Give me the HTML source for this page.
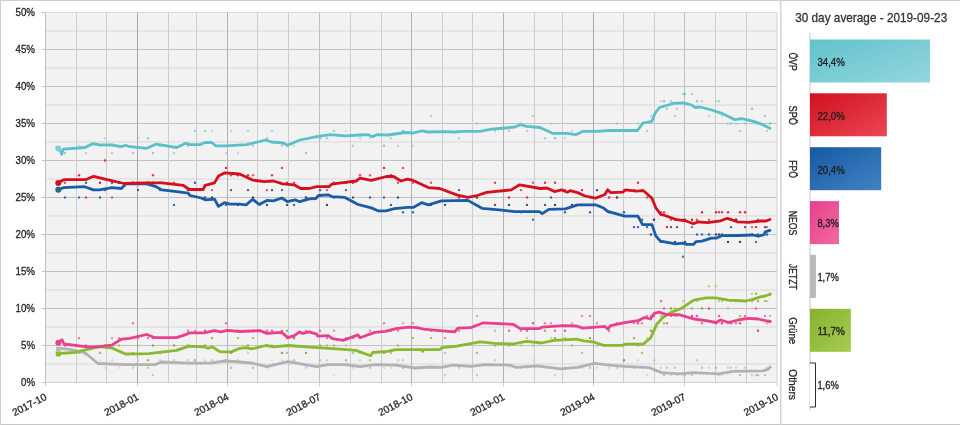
<!DOCTYPE html><html><head><meta charset="utf-8"><title>chart</title><style>html,body{margin:0;padding:0;background:#fff}svg{display:block}text{filter:grayscale(1);stroke:#222;stroke-width:0.28px}text{font-family:"Liberation Sans",sans-serif}</style></head><body>
<svg width="960" height="425" viewBox="0 0 960 425">
<defs>
<linearGradient id="g0" x1="0" y1="0" x2="1" y2="1"><stop offset="0" stop-color="#62c2cb"/><stop offset="1" stop-color="#93d6df"/></linearGradient>
<linearGradient id="g1" x1="0" y1="0" x2="1" y2="1"><stop offset="0" stop-color="#d2101f"/><stop offset="1" stop-color="#ea4753"/></linearGradient>
<linearGradient id="g2" x1="0" y1="0" x2="1" y2="1"><stop offset="0" stop-color="#1859a2"/><stop offset="1" stop-color="#3f83c4"/></linearGradient>
<linearGradient id="g3" x1="0" y1="0" x2="1" y2="1"><stop offset="0" stop-color="#e6408a"/><stop offset="1" stop-color="#f26aa6"/></linearGradient>
<linearGradient id="g5" x1="0" y1="0" x2="1" y2="1"><stop offset="0" stop-color="#86b22c"/><stop offset="1" stop-color="#a6cc52"/></linearGradient>
</defs>
<rect x="0" y="0" width="960" height="425" fill="#fff"/>
<rect x="0" y="0" width="960" height="1" fill="#cfcfcf"/>
<rect x="0" y="424" width="960" height="1" fill="#c6c6c6"/>
<rect x="0" y="0" width="1" height="425" fill="#cfcfcf"/>
<rect x="780" y="0" width="1.5" height="425" fill="#d4d4d4"/>
<rect x="45.5" y="12.5" width="732.0" height="370.0" fill="#f2f2f2"/>
<line x1="42.0" y1="382.5" x2="45.5" y2="382.5" stroke="#c0c0c0" stroke-width="1"/>
<line x1="45.5" y1="382.5" x2="777.5" y2="382.5" stroke="#d0d0d0" stroke-width="1"/>
<line x1="45.5" y1="364.0" x2="777.5" y2="364.0" stroke="#d9d9d9" stroke-width="1"/>
<line x1="42.0" y1="345.5" x2="45.5" y2="345.5" stroke="#c0c0c0" stroke-width="1"/>
<line x1="45.5" y1="345.5" x2="777.5" y2="345.5" stroke="#c2c2c2" stroke-width="1"/>
<line x1="45.5" y1="327.0" x2="777.5" y2="327.0" stroke="#d9d9d9" stroke-width="1"/>
<line x1="42.0" y1="308.5" x2="45.5" y2="308.5" stroke="#c0c0c0" stroke-width="1"/>
<line x1="45.5" y1="308.5" x2="777.5" y2="308.5" stroke="#c2c2c2" stroke-width="1"/>
<line x1="45.5" y1="290.0" x2="777.5" y2="290.0" stroke="#d9d9d9" stroke-width="1"/>
<line x1="42.0" y1="271.5" x2="45.5" y2="271.5" stroke="#c0c0c0" stroke-width="1"/>
<line x1="45.5" y1="271.5" x2="777.5" y2="271.5" stroke="#c2c2c2" stroke-width="1"/>
<line x1="45.5" y1="253.0" x2="777.5" y2="253.0" stroke="#d9d9d9" stroke-width="1"/>
<line x1="42.0" y1="234.5" x2="45.5" y2="234.5" stroke="#c0c0c0" stroke-width="1"/>
<line x1="45.5" y1="234.5" x2="777.5" y2="234.5" stroke="#c2c2c2" stroke-width="1"/>
<line x1="45.5" y1="216.0" x2="777.5" y2="216.0" stroke="#d9d9d9" stroke-width="1"/>
<line x1="42.0" y1="197.5" x2="45.5" y2="197.5" stroke="#c0c0c0" stroke-width="1"/>
<line x1="45.5" y1="197.5" x2="777.5" y2="197.5" stroke="#c2c2c2" stroke-width="1"/>
<line x1="45.5" y1="179.0" x2="777.5" y2="179.0" stroke="#d9d9d9" stroke-width="1"/>
<line x1="42.0" y1="160.5" x2="45.5" y2="160.5" stroke="#c0c0c0" stroke-width="1"/>
<line x1="45.5" y1="160.5" x2="777.5" y2="160.5" stroke="#c2c2c2" stroke-width="1"/>
<line x1="45.5" y1="142.0" x2="777.5" y2="142.0" stroke="#d9d9d9" stroke-width="1"/>
<line x1="42.0" y1="123.5" x2="45.5" y2="123.5" stroke="#c0c0c0" stroke-width="1"/>
<line x1="45.5" y1="123.5" x2="777.5" y2="123.5" stroke="#c2c2c2" stroke-width="1"/>
<line x1="45.5" y1="105.0" x2="777.5" y2="105.0" stroke="#d9d9d9" stroke-width="1"/>
<line x1="42.0" y1="86.5" x2="45.5" y2="86.5" stroke="#c0c0c0" stroke-width="1"/>
<line x1="45.5" y1="86.5" x2="777.5" y2="86.5" stroke="#c2c2c2" stroke-width="1"/>
<line x1="45.5" y1="68.0" x2="777.5" y2="68.0" stroke="#d9d9d9" stroke-width="1"/>
<line x1="42.0" y1="49.5" x2="45.5" y2="49.5" stroke="#c0c0c0" stroke-width="1"/>
<line x1="45.5" y1="49.5" x2="777.5" y2="49.5" stroke="#c2c2c2" stroke-width="1"/>
<line x1="45.5" y1="31.0" x2="777.5" y2="31.0" stroke="#d9d9d9" stroke-width="1"/>
<line x1="42.0" y1="12.5" x2="45.5" y2="12.5" stroke="#c0c0c0" stroke-width="1"/>
<line x1="45.5" y1="12.5" x2="777.5" y2="12.5" stroke="#dcdcdc" stroke-width="1"/>
<line x1="45.5" y1="12.5" x2="45.5" y2="382.5" stroke="#c0c0c0" stroke-width="1"/>
<line x1="45.5" y1="382.5" x2="45.5" y2="386.0" stroke="#cccccc" stroke-width="1"/>
<line x1="76.5" y1="12.5" x2="76.5" y2="382.5" stroke="#cecece" stroke-width="1"/>
<line x1="106.5" y1="12.5" x2="106.5" y2="382.5" stroke="#cecece" stroke-width="1"/>
<line x1="137.5" y1="12.5" x2="137.5" y2="382.5" stroke="#a6a6a6" stroke-width="1"/>
<line x1="137.5" y1="382.5" x2="137.5" y2="386.0" stroke="#cccccc" stroke-width="1"/>
<line x1="168.5" y1="12.5" x2="168.5" y2="382.5" stroke="#cecece" stroke-width="1"/>
<line x1="196.5" y1="12.5" x2="196.5" y2="382.5" stroke="#cecece" stroke-width="1"/>
<line x1="227.5" y1="12.5" x2="227.5" y2="382.5" stroke="#b2b2b2" stroke-width="1"/>
<line x1="227.5" y1="382.5" x2="227.5" y2="386.0" stroke="#cccccc" stroke-width="1"/>
<line x1="257.5" y1="12.5" x2="257.5" y2="382.5" stroke="#cecece" stroke-width="1"/>
<line x1="288.5" y1="12.5" x2="288.5" y2="382.5" stroke="#cecece" stroke-width="1"/>
<line x1="319.5" y1="12.5" x2="319.5" y2="382.5" stroke="#c0c0c0" stroke-width="1"/>
<line x1="319.5" y1="382.5" x2="319.5" y2="386.0" stroke="#cccccc" stroke-width="1"/>
<line x1="350.5" y1="12.5" x2="350.5" y2="382.5" stroke="#cecece" stroke-width="1"/>
<line x1="381.5" y1="12.5" x2="381.5" y2="382.5" stroke="#cecece" stroke-width="1"/>
<line x1="411.5" y1="12.5" x2="411.5" y2="382.5" stroke="#b2b2b2" stroke-width="1"/>
<line x1="411.5" y1="382.5" x2="411.5" y2="386.0" stroke="#cccccc" stroke-width="1"/>
<line x1="442.5" y1="12.5" x2="442.5" y2="382.5" stroke="#cecece" stroke-width="1"/>
<line x1="472.5" y1="12.5" x2="472.5" y2="382.5" stroke="#cecece" stroke-width="1"/>
<line x1="503.5" y1="12.5" x2="503.5" y2="382.5" stroke="#b2b2b2" stroke-width="1"/>
<line x1="503.5" y1="382.5" x2="503.5" y2="386.0" stroke="#cccccc" stroke-width="1"/>
<line x1="534.5" y1="12.5" x2="534.5" y2="382.5" stroke="#cecece" stroke-width="1"/>
<line x1="562.5" y1="12.5" x2="562.5" y2="382.5" stroke="#cecece" stroke-width="1"/>
<line x1="593.5" y1="12.5" x2="593.5" y2="382.5" stroke="#a8a8a8" stroke-width="1"/>
<line x1="593.5" y1="382.5" x2="593.5" y2="386.0" stroke="#cccccc" stroke-width="1"/>
<line x1="623.5" y1="12.5" x2="623.5" y2="382.5" stroke="#cecece" stroke-width="1"/>
<line x1="654.5" y1="12.5" x2="654.5" y2="382.5" stroke="#cecece" stroke-width="1"/>
<line x1="684.5" y1="12.5" x2="684.5" y2="382.5" stroke="#bebebe" stroke-width="1"/>
<line x1="684.5" y1="382.5" x2="684.5" y2="386.0" stroke="#cccccc" stroke-width="1"/>
<line x1="715.5" y1="12.5" x2="715.5" y2="382.5" stroke="#cecece" stroke-width="1"/>
<line x1="746.5" y1="12.5" x2="746.5" y2="382.5" stroke="#cecece" stroke-width="1"/>
<line x1="777.0" y1="12.5" x2="777.0" y2="382.5" stroke="#d6d6d6" stroke-width="1"/>
<line x1="777.0" y1="382.5" x2="777.0" y2="386.0" stroke="#cccccc" stroke-width="1"/>
<text x="35" y="386.1" font-size="10.3" text-anchor="end" fill="#1e1e1e" textLength="14" lengthAdjust="spacingAndGlyphs">0%</text>
<text x="35" y="349.1" font-size="10.3" text-anchor="end" fill="#1e1e1e" textLength="14" lengthAdjust="spacingAndGlyphs">5%</text>
<text x="35" y="312.1" font-size="10.3" text-anchor="end" fill="#1e1e1e" textLength="19.5" lengthAdjust="spacingAndGlyphs">10%</text>
<text x="35" y="275.1" font-size="10.3" text-anchor="end" fill="#1e1e1e" textLength="19.5" lengthAdjust="spacingAndGlyphs">15%</text>
<text x="35" y="238.1" font-size="10.3" text-anchor="end" fill="#1e1e1e" textLength="19.5" lengthAdjust="spacingAndGlyphs">20%</text>
<text x="35" y="201.1" font-size="10.3" text-anchor="end" fill="#1e1e1e" textLength="19.5" lengthAdjust="spacingAndGlyphs">25%</text>
<text x="35" y="164.1" font-size="10.3" text-anchor="end" fill="#1e1e1e" textLength="19.5" lengthAdjust="spacingAndGlyphs">30%</text>
<text x="35" y="127.1" font-size="10.3" text-anchor="end" fill="#1e1e1e" textLength="19.5" lengthAdjust="spacingAndGlyphs">35%</text>
<text x="35" y="90.1" font-size="10.3" text-anchor="end" fill="#1e1e1e" textLength="19.5" lengthAdjust="spacingAndGlyphs">40%</text>
<text x="35" y="53.1" font-size="10.3" text-anchor="end" fill="#1e1e1e" textLength="19.5" lengthAdjust="spacingAndGlyphs">45%</text>
<text x="35" y="16.1" font-size="10.3" text-anchor="end" fill="#1e1e1e" textLength="19.5" lengthAdjust="spacingAndGlyphs">50%</text>
<text transform="translate(46.0,396) rotate(-27.5)" font-size="10.2" text-anchor="end" fill="#1e1e1e" dy="3.5">2017-10</text>
<text transform="translate(138.0,396) rotate(-27.5)" font-size="10.2" text-anchor="end" fill="#1e1e1e" dy="3.5">2018-01</text>
<text transform="translate(228.0,396) rotate(-27.5)" font-size="10.2" text-anchor="end" fill="#1e1e1e" dy="3.5">2018-04</text>
<text transform="translate(320.0,396) rotate(-27.5)" font-size="10.2" text-anchor="end" fill="#1e1e1e" dy="3.5">2018-07</text>
<text transform="translate(412.0,396) rotate(-27.5)" font-size="10.2" text-anchor="end" fill="#1e1e1e" dy="3.5">2018-10</text>
<text transform="translate(504.0,396) rotate(-27.5)" font-size="10.2" text-anchor="end" fill="#1e1e1e" dy="3.5">2019-01</text>
<text transform="translate(594.0,396) rotate(-27.5)" font-size="10.2" text-anchor="end" fill="#1e1e1e" dy="3.5">2019-04</text>
<text transform="translate(685.0,396) rotate(-27.5)" font-size="10.2" text-anchor="end" fill="#1e1e1e" dy="3.5">2019-07</text>
<text transform="translate(777.5,396) rotate(-27.5)" font-size="10.2" text-anchor="end" fill="#1e1e1e" dy="3.5">2019-10</text>
<g><circle cx="65.0" cy="153.1" r="1.2" fill="#9db8b4" fill-opacity="0.9"/><circle cx="65.0" cy="182.7" r="1.2" fill="#e8485c" fill-opacity="1"/><circle cx="65.0" cy="197.5" r="1.2" fill="#2f6db5" fill-opacity="1"/><circle cx="65.0" cy="345.5" r="1.2" fill="#e8408a" fill-opacity="0.9"/><circle cx="65.0" cy="345.5" r="1.2" fill="#a4c85a" fill-opacity="0.8"/><circle cx="65.0" cy="352.9" r="1.2" fill="#c4c4c4" fill-opacity="1"/><circle cx="79.0" cy="145.7" r="1.2" fill="#86cfd6" fill-opacity="0.5"/><circle cx="79.0" cy="175.3" r="1.2" fill="#d81830" fill-opacity="0.9"/><circle cx="79.0" cy="197.5" r="1.2" fill="#2f6db5" fill-opacity="0.9"/><circle cx="79.0" cy="338.1" r="1.2" fill="#ea5a98" fill-opacity="0.9"/><circle cx="79.0" cy="352.9" r="1.2" fill="#92bc3c" fill-opacity="0.8"/><circle cx="79.0" cy="352.9" r="1.2" fill="#b8b8b8" fill-opacity="0.8"/><circle cx="86.0" cy="153.1" r="1.2" fill="#9db8b4" fill-opacity="0.7"/><circle cx="86.0" cy="197.5" r="1.2" fill="#e02840" fill-opacity="0.9"/><circle cx="86.0" cy="182.7" r="1.2" fill="#2a5c9c" fill-opacity="0.9"/><circle cx="86.0" cy="345.5" r="1.2" fill="#f07aac" fill-opacity="1"/><circle cx="86.0" cy="345.5" r="1.2" fill="#92bc3c" fill-opacity="0.8"/><circle cx="86.0" cy="352.9" r="1.2" fill="#b8b8b8" fill-opacity="0.8"/><circle cx="100.0" cy="145.7" r="1.2" fill="#6cc7cf" fill-opacity="0.9"/><circle cx="100.0" cy="182.7" r="1.2" fill="#d81830" fill-opacity="1"/><circle cx="100.0" cy="197.5" r="1.2" fill="#2f6db5" fill-opacity="1"/><circle cx="100.0" cy="352.9" r="1.2" fill="#e8408a" fill-opacity="0.9"/><circle cx="100.0" cy="352.9" r="1.2" fill="#a4c85a" fill-opacity="1"/><circle cx="100.0" cy="360.3" r="1.2" fill="#d0d0d0" fill-opacity="0.6"/><circle cx="105.0" cy="138.3" r="1.2" fill="#86cfd6" fill-opacity="0.5"/><circle cx="105.0" cy="160.5" r="1.2" fill="#e02840" fill-opacity="1"/><circle cx="105.0" cy="190.1" r="1.2" fill="#2a5c9c" fill-opacity="1"/><circle cx="105.0" cy="345.5" r="1.2" fill="#ea5a98" fill-opacity="0.9"/><circle cx="105.0" cy="345.5" r="1.2" fill="#92bc3c" fill-opacity="1"/><circle cx="105.0" cy="367.7" r="1.2" fill="#d0d0d0" fill-opacity="0.6"/><circle cx="112.0" cy="153.1" r="1.2" fill="#9db8b4" fill-opacity="0.7"/><circle cx="112.0" cy="197.5" r="1.2" fill="#e8485c" fill-opacity="0.9"/><circle cx="112.0" cy="182.7" r="1.2" fill="#2f6db5" fill-opacity="1"/><circle cx="112.0" cy="338.1" r="1.2" fill="#f07aac" fill-opacity="0.9"/><circle cx="112.0" cy="345.5" r="1.2" fill="#a4c85a" fill-opacity="1"/><circle cx="112.0" cy="360.3" r="1.2" fill="#d0d0d0" fill-opacity="0.8"/><circle cx="119.0" cy="145.7" r="1.2" fill="#6cc7cf" fill-opacity="0.5"/><circle cx="119.0" cy="182.7" r="1.2" fill="#d81830" fill-opacity="1"/><circle cx="119.0" cy="182.7" r="1.2" fill="#38485e" fill-opacity="1"/><circle cx="119.0" cy="338.1" r="1.2" fill="#f07aac" fill-opacity="1"/><circle cx="119.0" cy="345.5" r="1.2" fill="#a4c85a" fill-opacity="1"/><circle cx="119.0" cy="367.7" r="1.2" fill="#d0d0d0" fill-opacity="0.6"/><circle cx="133.0" cy="153.1" r="1.2" fill="#9db8b4" fill-opacity="0.9"/><circle cx="133.0" cy="182.7" r="1.2" fill="#e8485c" fill-opacity="1"/><circle cx="133.0" cy="182.7" r="1.2" fill="#2a5c9c" fill-opacity="0.9"/><circle cx="133.0" cy="323.3" r="1.2" fill="#f07aac" fill-opacity="1"/><circle cx="133.0" cy="352.9" r="1.2" fill="#a4c85a" fill-opacity="0.8"/><circle cx="133.0" cy="367.7" r="1.2" fill="#b8b8b8" fill-opacity="0.6"/><circle cx="138.0" cy="138.3" r="1.2" fill="#86cfd6" fill-opacity="0.7"/><circle cx="138.0" cy="182.7" r="1.2" fill="#e02840" fill-opacity="1"/><circle cx="138.0" cy="190.1" r="1.2" fill="#44546a" fill-opacity="1"/><circle cx="138.0" cy="338.1" r="1.2" fill="#ea5a98" fill-opacity="0.7"/><circle cx="138.0" cy="345.5" r="1.2" fill="#a4c85a" fill-opacity="0.6"/><circle cx="138.0" cy="360.3" r="1.2" fill="#d0d0d0" fill-opacity="1"/><circle cx="148.0" cy="138.3" r="1.2" fill="#6cc7cf" fill-opacity="0.7"/><circle cx="148.0" cy="182.7" r="1.2" fill="#d81830" fill-opacity="1"/><circle cx="148.0" cy="182.7" r="1.2" fill="#38485e" fill-opacity="1"/><circle cx="148.0" cy="338.1" r="1.2" fill="#e8408a" fill-opacity="0.7"/><circle cx="148.0" cy="360.3" r="1.2" fill="#86a838" fill-opacity="0.8"/><circle cx="148.0" cy="367.7" r="1.2" fill="#c4c4c4" fill-opacity="1"/><circle cx="153.0" cy="153.1" r="1.2" fill="#6cc7cf" fill-opacity="0.9"/><circle cx="153.0" cy="175.3" r="1.2" fill="#e02840" fill-opacity="0.9"/><circle cx="153.0" cy="182.7" r="1.2" fill="#2f6db5" fill-opacity="1"/><circle cx="153.0" cy="338.1" r="1.2" fill="#ea5a98" fill-opacity="1"/><circle cx="153.0" cy="345.5" r="1.2" fill="#86a838" fill-opacity="0.8"/><circle cx="153.0" cy="375.1" r="1.2" fill="#c4c4c4" fill-opacity="1"/><circle cx="160.0" cy="145.7" r="1.2" fill="#9db8b4" fill-opacity="0.9"/><circle cx="160.0" cy="182.7" r="1.2" fill="#e02840" fill-opacity="1"/><circle cx="160.0" cy="190.1" r="1.2" fill="#2a5c9c" fill-opacity="0.9"/><circle cx="160.0" cy="338.1" r="1.2" fill="#ea5a98" fill-opacity="0.9"/><circle cx="160.0" cy="352.9" r="1.2" fill="#86a838" fill-opacity="0.8"/><circle cx="160.0" cy="360.3" r="1.2" fill="#d0d0d0" fill-opacity="1"/><circle cx="174.0" cy="153.1" r="1.2" fill="#9db8b4" fill-opacity="0.7"/><circle cx="174.0" cy="182.7" r="1.2" fill="#e8485c" fill-opacity="1"/><circle cx="174.0" cy="204.9" r="1.2" fill="#2f6db5" fill-opacity="1"/><circle cx="174.0" cy="345.5" r="1.2" fill="#ea5a98" fill-opacity="1"/><circle cx="174.0" cy="345.5" r="1.2" fill="#a4c85a" fill-opacity="0.6"/><circle cx="174.0" cy="360.3" r="1.2" fill="#b8b8b8" fill-opacity="0.6"/><circle cx="188.0" cy="145.7" r="1.2" fill="#6cc7cf" fill-opacity="0.7"/><circle cx="188.0" cy="190.1" r="1.2" fill="#d81830" fill-opacity="1"/><circle cx="188.0" cy="190.1" r="1.2" fill="#2f6db5" fill-opacity="0.9"/><circle cx="188.0" cy="330.7" r="1.2" fill="#e8408a" fill-opacity="0.7"/><circle cx="188.0" cy="345.5" r="1.2" fill="#92bc3c" fill-opacity="1"/><circle cx="188.0" cy="360.3" r="1.2" fill="#d0d0d0" fill-opacity="1"/><circle cx="195.0" cy="130.9" r="1.2" fill="#6cc7cf" fill-opacity="0.7"/><circle cx="195.0" cy="190.1" r="1.2" fill="#e8485c" fill-opacity="1"/><circle cx="195.0" cy="182.7" r="1.2" fill="#2a5c9c" fill-opacity="1"/><circle cx="195.0" cy="330.7" r="1.2" fill="#f07aac" fill-opacity="0.9"/><circle cx="195.0" cy="360.3" r="1.2" fill="#86a838" fill-opacity="0.6"/><circle cx="195.0" cy="360.3" r="1.2" fill="#b8b8b8" fill-opacity="1"/><circle cx="205.0" cy="130.9" r="1.2" fill="#86cfd6" fill-opacity="0.9"/><circle cx="205.0" cy="197.5" r="1.2" fill="#e02840" fill-opacity="1"/><circle cx="205.0" cy="197.5" r="1.2" fill="#2f6db5" fill-opacity="1"/><circle cx="205.0" cy="330.7" r="1.2" fill="#ea5a98" fill-opacity="1"/><circle cx="205.0" cy="345.5" r="1.2" fill="#86a838" fill-opacity="0.8"/><circle cx="205.0" cy="360.3" r="1.2" fill="#c4c4c4" fill-opacity="0.6"/><circle cx="212.0" cy="130.9" r="1.2" fill="#86cfd6" fill-opacity="0.5"/><circle cx="212.0" cy="190.1" r="1.2" fill="#e8485c" fill-opacity="0.9"/><circle cx="212.0" cy="197.5" r="1.2" fill="#38485e" fill-opacity="1"/><circle cx="212.0" cy="330.7" r="1.2" fill="#f07aac" fill-opacity="0.7"/><circle cx="212.0" cy="338.1" r="1.2" fill="#92bc3c" fill-opacity="1"/><circle cx="212.0" cy="360.3" r="1.2" fill="#d0d0d0" fill-opacity="1"/><circle cx="226.0" cy="153.1" r="1.2" fill="#86cfd6" fill-opacity="0.7"/><circle cx="226.0" cy="167.9" r="1.2" fill="#e02840" fill-opacity="1"/><circle cx="226.0" cy="204.9" r="1.2" fill="#2f6db5" fill-opacity="1"/><circle cx="226.0" cy="323.3" r="1.2" fill="#e8408a" fill-opacity="0.7"/><circle cx="226.0" cy="360.3" r="1.2" fill="#a4c85a" fill-opacity="1"/><circle cx="226.0" cy="360.3" r="1.2" fill="#c4c4c4" fill-opacity="0.6"/><circle cx="231.0" cy="130.9" r="1.2" fill="#6cc7cf" fill-opacity="0.5"/><circle cx="231.0" cy="175.3" r="1.2" fill="#e8485c" fill-opacity="1"/><circle cx="231.0" cy="190.1" r="1.2" fill="#44546a" fill-opacity="0.9"/><circle cx="231.0" cy="330.7" r="1.2" fill="#f07aac" fill-opacity="1"/><circle cx="231.0" cy="352.9" r="1.2" fill="#92bc3c" fill-opacity="1"/><circle cx="231.0" cy="367.7" r="1.2" fill="#b8b8b8" fill-opacity="1"/><circle cx="238.0" cy="153.1" r="1.2" fill="#86cfd6" fill-opacity="0.5"/><circle cx="238.0" cy="175.3" r="1.2" fill="#d81830" fill-opacity="0.9"/><circle cx="238.0" cy="204.9" r="1.2" fill="#38485e" fill-opacity="1"/><circle cx="238.0" cy="330.7" r="1.2" fill="#ea5a98" fill-opacity="0.9"/><circle cx="238.0" cy="338.1" r="1.2" fill="#92bc3c" fill-opacity="0.8"/><circle cx="238.0" cy="360.3" r="1.2" fill="#c4c4c4" fill-opacity="0.8"/><circle cx="248.0" cy="130.9" r="1.2" fill="#86cfd6" fill-opacity="0.7"/><circle cx="248.0" cy="175.3" r="1.2" fill="#d81830" fill-opacity="0.9"/><circle cx="248.0" cy="190.1" r="1.2" fill="#38485e" fill-opacity="0.9"/><circle cx="248.0" cy="330.7" r="1.2" fill="#f07aac" fill-opacity="0.7"/><circle cx="248.0" cy="345.5" r="1.2" fill="#86a838" fill-opacity="0.8"/><circle cx="248.0" cy="352.9" r="1.2" fill="#b8b8b8" fill-opacity="0.6"/><circle cx="253.0" cy="145.7" r="1.2" fill="#6cc7cf" fill-opacity="0.7"/><circle cx="253.0" cy="175.3" r="1.2" fill="#e8485c" fill-opacity="0.9"/><circle cx="253.0" cy="197.5" r="1.2" fill="#38485e" fill-opacity="1"/><circle cx="253.0" cy="330.7" r="1.2" fill="#e8408a" fill-opacity="1"/><circle cx="253.0" cy="338.1" r="1.2" fill="#92bc3c" fill-opacity="0.8"/><circle cx="253.0" cy="367.7" r="1.2" fill="#c4c4c4" fill-opacity="1"/><circle cx="267.0" cy="138.3" r="1.2" fill="#86cfd6" fill-opacity="0.9"/><circle cx="267.0" cy="190.1" r="1.2" fill="#e8485c" fill-opacity="1"/><circle cx="267.0" cy="204.9" r="1.2" fill="#2a5c9c" fill-opacity="1"/><circle cx="267.0" cy="330.7" r="1.2" fill="#ea5a98" fill-opacity="1"/><circle cx="267.0" cy="345.5" r="1.2" fill="#a4c85a" fill-opacity="0.6"/><circle cx="267.0" cy="367.7" r="1.2" fill="#c4c4c4" fill-opacity="0.6"/><circle cx="272.0" cy="130.9" r="1.2" fill="#86cfd6" fill-opacity="0.7"/><circle cx="272.0" cy="175.3" r="1.2" fill="#e02840" fill-opacity="0.9"/><circle cx="272.0" cy="190.1" r="1.2" fill="#44546a" fill-opacity="1"/><circle cx="272.0" cy="330.7" r="1.2" fill="#ea5a98" fill-opacity="1"/><circle cx="272.0" cy="345.5" r="1.2" fill="#92bc3c" fill-opacity="0.8"/><circle cx="272.0" cy="360.3" r="1.2" fill="#d0d0d0" fill-opacity="0.6"/><circle cx="282.0" cy="145.7" r="1.2" fill="#9db8b4" fill-opacity="0.7"/><circle cx="282.0" cy="167.9" r="1.2" fill="#e02840" fill-opacity="0.9"/><circle cx="282.0" cy="190.1" r="1.2" fill="#44546a" fill-opacity="0.9"/><circle cx="282.0" cy="330.7" r="1.2" fill="#ea5a98" fill-opacity="0.9"/><circle cx="282.0" cy="352.9" r="1.2" fill="#86a838" fill-opacity="1"/><circle cx="282.0" cy="360.3" r="1.2" fill="#c4c4c4" fill-opacity="0.6"/><circle cx="287.0" cy="145.7" r="1.2" fill="#86cfd6" fill-opacity="0.5"/><circle cx="287.0" cy="182.7" r="1.2" fill="#e02840" fill-opacity="1"/><circle cx="287.0" cy="204.9" r="1.2" fill="#44546a" fill-opacity="1"/><circle cx="287.0" cy="338.1" r="1.2" fill="#e8408a" fill-opacity="0.7"/><circle cx="287.0" cy="330.7" r="1.2" fill="#92bc3c" fill-opacity="1"/><circle cx="287.0" cy="352.9" r="1.2" fill="#b8b8b8" fill-opacity="1"/><circle cx="294.0" cy="145.7" r="1.2" fill="#86cfd6" fill-opacity="0.5"/><circle cx="294.0" cy="182.7" r="1.2" fill="#e8485c" fill-opacity="1"/><circle cx="294.0" cy="204.9" r="1.2" fill="#2f6db5" fill-opacity="1"/><circle cx="294.0" cy="338.1" r="1.2" fill="#e8408a" fill-opacity="1"/><circle cx="294.0" cy="338.1" r="1.2" fill="#86a838" fill-opacity="1"/><circle cx="294.0" cy="360.3" r="1.2" fill="#c4c4c4" fill-opacity="1"/><circle cx="306.0" cy="153.1" r="1.2" fill="#9db8b4" fill-opacity="0.9"/><circle cx="306.0" cy="197.5" r="1.2" fill="#d81830" fill-opacity="0.9"/><circle cx="306.0" cy="197.5" r="1.2" fill="#44546a" fill-opacity="0.9"/><circle cx="306.0" cy="330.7" r="1.2" fill="#f07aac" fill-opacity="0.9"/><circle cx="306.0" cy="352.9" r="1.2" fill="#86a838" fill-opacity="1"/><circle cx="306.0" cy="367.7" r="1.2" fill="#b8b8b8" fill-opacity="0.6"/><circle cx="320.0" cy="138.3" r="1.2" fill="#6cc7cf" fill-opacity="0.9"/><circle cx="320.0" cy="190.1" r="1.2" fill="#d81830" fill-opacity="1"/><circle cx="320.0" cy="190.1" r="1.2" fill="#2f6db5" fill-opacity="1"/><circle cx="320.0" cy="330.7" r="1.2" fill="#ea5a98" fill-opacity="0.9"/><circle cx="320.0" cy="345.5" r="1.2" fill="#92bc3c" fill-opacity="1"/><circle cx="320.0" cy="360.3" r="1.2" fill="#b8b8b8" fill-opacity="0.8"/><circle cx="327.0" cy="138.3" r="1.2" fill="#86cfd6" fill-opacity="0.9"/><circle cx="327.0" cy="190.1" r="1.2" fill="#e8485c" fill-opacity="0.9"/><circle cx="327.0" cy="204.9" r="1.2" fill="#38485e" fill-opacity="1"/><circle cx="327.0" cy="338.1" r="1.2" fill="#ea5a98" fill-opacity="0.9"/><circle cx="327.0" cy="345.5" r="1.2" fill="#a4c85a" fill-opacity="1"/><circle cx="327.0" cy="360.3" r="1.2" fill="#b8b8b8" fill-opacity="0.6"/><circle cx="334.0" cy="130.9" r="1.2" fill="#86cfd6" fill-opacity="0.9"/><circle cx="334.0" cy="182.7" r="1.2" fill="#e02840" fill-opacity="1"/><circle cx="334.0" cy="197.5" r="1.2" fill="#44546a" fill-opacity="1"/><circle cx="334.0" cy="330.7" r="1.2" fill="#f07aac" fill-opacity="0.9"/><circle cx="334.0" cy="345.5" r="1.2" fill="#86a838" fill-opacity="0.6"/><circle cx="334.0" cy="375.1" r="1.2" fill="#d0d0d0" fill-opacity="0.6"/><circle cx="346.0" cy="130.9" r="1.2" fill="#86cfd6" fill-opacity="0.5"/><circle cx="346.0" cy="182.7" r="1.2" fill="#d81830" fill-opacity="1"/><circle cx="346.0" cy="190.1" r="1.2" fill="#2a5c9c" fill-opacity="0.9"/><circle cx="346.0" cy="338.1" r="1.2" fill="#e8408a" fill-opacity="0.7"/><circle cx="346.0" cy="345.5" r="1.2" fill="#a4c85a" fill-opacity="0.6"/><circle cx="346.0" cy="360.3" r="1.2" fill="#b8b8b8" fill-opacity="1"/><circle cx="353.0" cy="145.7" r="1.2" fill="#9db8b4" fill-opacity="0.7"/><circle cx="353.0" cy="182.7" r="1.2" fill="#e02840" fill-opacity="1"/><circle cx="353.0" cy="197.5" r="1.2" fill="#38485e" fill-opacity="0.9"/><circle cx="353.0" cy="338.1" r="1.2" fill="#ea5a98" fill-opacity="0.9"/><circle cx="353.0" cy="352.9" r="1.2" fill="#86a838" fill-opacity="0.6"/><circle cx="353.0" cy="367.7" r="1.2" fill="#d0d0d0" fill-opacity="0.8"/><circle cx="360.0" cy="138.3" r="1.2" fill="#86cfd6" fill-opacity="0.5"/><circle cx="360.0" cy="175.3" r="1.2" fill="#e8485c" fill-opacity="1"/><circle cx="360.0" cy="204.9" r="1.2" fill="#2a5c9c" fill-opacity="1"/><circle cx="360.0" cy="338.1" r="1.2" fill="#ea5a98" fill-opacity="1"/><circle cx="360.0" cy="352.9" r="1.2" fill="#a4c85a" fill-opacity="0.8"/><circle cx="360.0" cy="360.3" r="1.2" fill="#b8b8b8" fill-opacity="0.6"/><circle cx="370.0" cy="138.3" r="1.2" fill="#86cfd6" fill-opacity="0.5"/><circle cx="370.0" cy="175.3" r="1.2" fill="#e8485c" fill-opacity="0.9"/><circle cx="370.0" cy="197.5" r="1.2" fill="#2a5c9c" fill-opacity="0.9"/><circle cx="370.0" cy="330.7" r="1.2" fill="#f07aac" fill-opacity="0.9"/><circle cx="370.0" cy="360.3" r="1.2" fill="#a4c85a" fill-opacity="0.8"/><circle cx="370.0" cy="367.7" r="1.2" fill="#c4c4c4" fill-opacity="1"/><circle cx="384.0" cy="145.7" r="1.2" fill="#9db8b4" fill-opacity="0.9"/><circle cx="384.0" cy="167.9" r="1.2" fill="#e02840" fill-opacity="1"/><circle cx="384.0" cy="197.5" r="1.2" fill="#2f6db5" fill-opacity="1"/><circle cx="384.0" cy="323.3" r="1.2" fill="#e8408a" fill-opacity="0.7"/><circle cx="384.0" cy="352.9" r="1.2" fill="#92bc3c" fill-opacity="1"/><circle cx="384.0" cy="367.7" r="1.2" fill="#c4c4c4" fill-opacity="0.6"/><circle cx="391.0" cy="138.3" r="1.2" fill="#86cfd6" fill-opacity="0.7"/><circle cx="391.0" cy="175.3" r="1.2" fill="#d81830" fill-opacity="1"/><circle cx="391.0" cy="204.9" r="1.2" fill="#2a5c9c" fill-opacity="1"/><circle cx="391.0" cy="330.7" r="1.2" fill="#f07aac" fill-opacity="1"/><circle cx="391.0" cy="352.9" r="1.2" fill="#86a838" fill-opacity="0.6"/><circle cx="391.0" cy="367.7" r="1.2" fill="#c4c4c4" fill-opacity="0.6"/><circle cx="398.0" cy="145.7" r="1.2" fill="#9db8b4" fill-opacity="0.5"/><circle cx="398.0" cy="182.7" r="1.2" fill="#e8485c" fill-opacity="1"/><circle cx="398.0" cy="197.5" r="1.2" fill="#2a5c9c" fill-opacity="1"/><circle cx="398.0" cy="330.7" r="1.2" fill="#ea5a98" fill-opacity="0.7"/><circle cx="398.0" cy="345.5" r="1.2" fill="#92bc3c" fill-opacity="0.8"/><circle cx="398.0" cy="360.3" r="1.2" fill="#c4c4c4" fill-opacity="0.8"/><circle cx="403.0" cy="130.9" r="1.2" fill="#6cc7cf" fill-opacity="0.9"/><circle cx="403.0" cy="167.9" r="1.2" fill="#e8485c" fill-opacity="1"/><circle cx="403.0" cy="212.3" r="1.2" fill="#2f6db5" fill-opacity="1"/><circle cx="403.0" cy="323.3" r="1.2" fill="#f07aac" fill-opacity="0.7"/><circle cx="403.0" cy="360.3" r="1.2" fill="#a4c85a" fill-opacity="0.6"/><circle cx="403.0" cy="367.7" r="1.2" fill="#b8b8b8" fill-opacity="1"/><circle cx="413.0" cy="145.7" r="1.2" fill="#6cc7cf" fill-opacity="0.5"/><circle cx="413.0" cy="182.7" r="1.2" fill="#e8485c" fill-opacity="0.9"/><circle cx="413.0" cy="212.3" r="1.2" fill="#2f6db5" fill-opacity="1"/><circle cx="413.0" cy="323.3" r="1.2" fill="#ea5a98" fill-opacity="0.7"/><circle cx="413.0" cy="338.1" r="1.2" fill="#a4c85a" fill-opacity="1"/><circle cx="413.0" cy="367.7" r="1.2" fill="#d0d0d0" fill-opacity="0.6"/><circle cx="431.0" cy="116.1" r="1.2" fill="#9db8b4" fill-opacity="0.7"/><circle cx="431.0" cy="182.7" r="1.2" fill="#e8485c" fill-opacity="0.9"/><circle cx="431.0" cy="204.9" r="1.2" fill="#2a5c9c" fill-opacity="1"/><circle cx="431.0" cy="330.7" r="1.2" fill="#e8408a" fill-opacity="0.7"/><circle cx="431.0" cy="338.1" r="1.2" fill="#86a838" fill-opacity="0.8"/><circle cx="431.0" cy="367.7" r="1.2" fill="#c4c4c4" fill-opacity="1"/><circle cx="445.0" cy="130.9" r="1.2" fill="#6cc7cf" fill-opacity="0.5"/><circle cx="445.0" cy="190.1" r="1.2" fill="#d81830" fill-opacity="0.9"/><circle cx="445.0" cy="204.9" r="1.2" fill="#2a5c9c" fill-opacity="1"/><circle cx="445.0" cy="338.1" r="1.2" fill="#f07aac" fill-opacity="1"/><circle cx="445.0" cy="352.9" r="1.2" fill="#92bc3c" fill-opacity="0.6"/><circle cx="445.0" cy="375.1" r="1.2" fill="#c4c4c4" fill-opacity="0.8"/><circle cx="459.0" cy="138.3" r="1.2" fill="#86cfd6" fill-opacity="0.7"/><circle cx="459.0" cy="197.5" r="1.2" fill="#e02840" fill-opacity="1"/><circle cx="459.0" cy="190.1" r="1.2" fill="#2f6db5" fill-opacity="1"/><circle cx="459.0" cy="330.7" r="1.2" fill="#f07aac" fill-opacity="1"/><circle cx="459.0" cy="345.5" r="1.2" fill="#86a838" fill-opacity="0.6"/><circle cx="459.0" cy="367.7" r="1.2" fill="#b8b8b8" fill-opacity="0.6"/><circle cx="477.0" cy="123.5" r="1.2" fill="#9db8b4" fill-opacity="0.7"/><circle cx="477.0" cy="197.5" r="1.2" fill="#e02840" fill-opacity="0.9"/><circle cx="477.0" cy="197.5" r="1.2" fill="#2f6db5" fill-opacity="0.9"/><circle cx="477.0" cy="315.9" r="1.2" fill="#f07aac" fill-opacity="0.7"/><circle cx="477.0" cy="352.9" r="1.2" fill="#92bc3c" fill-opacity="0.8"/><circle cx="477.0" cy="375.1" r="1.2" fill="#c4c4c4" fill-opacity="1"/><circle cx="495.0" cy="130.9" r="1.2" fill="#9db8b4" fill-opacity="0.7"/><circle cx="495.0" cy="182.7" r="1.2" fill="#e02840" fill-opacity="0.9"/><circle cx="495.0" cy="204.9" r="1.2" fill="#38485e" fill-opacity="0.9"/><circle cx="495.0" cy="330.7" r="1.2" fill="#f07aac" fill-opacity="0.7"/><circle cx="495.0" cy="345.5" r="1.2" fill="#92bc3c" fill-opacity="0.8"/><circle cx="495.0" cy="360.3" r="1.2" fill="#c4c4c4" fill-opacity="0.8"/><circle cx="509.0" cy="130.9" r="1.2" fill="#9db8b4" fill-opacity="0.7"/><circle cx="509.0" cy="197.5" r="1.2" fill="#d81830" fill-opacity="0.9"/><circle cx="509.0" cy="204.9" r="1.2" fill="#38485e" fill-opacity="1"/><circle cx="509.0" cy="330.7" r="1.2" fill="#ea5a98" fill-opacity="0.9"/><circle cx="509.0" cy="345.5" r="1.2" fill="#86a838" fill-opacity="0.6"/><circle cx="509.0" cy="367.7" r="1.2" fill="#d0d0d0" fill-opacity="0.6"/><circle cx="521.0" cy="123.5" r="1.2" fill="#86cfd6" fill-opacity="0.9"/><circle cx="521.0" cy="190.1" r="1.2" fill="#e8485c" fill-opacity="1"/><circle cx="521.0" cy="212.3" r="1.2" fill="#2a5c9c" fill-opacity="1"/><circle cx="521.0" cy="330.7" r="1.2" fill="#ea5a98" fill-opacity="0.7"/><circle cx="521.0" cy="345.5" r="1.2" fill="#a4c85a" fill-opacity="0.6"/><circle cx="521.0" cy="367.7" r="1.2" fill="#d0d0d0" fill-opacity="1"/><circle cx="527.0" cy="130.9" r="1.2" fill="#86cfd6" fill-opacity="0.7"/><circle cx="527.0" cy="197.5" r="1.2" fill="#e02840" fill-opacity="0.9"/><circle cx="527.0" cy="204.9" r="1.2" fill="#44546a" fill-opacity="1"/><circle cx="527.0" cy="330.7" r="1.2" fill="#ea5a98" fill-opacity="1"/><circle cx="527.0" cy="338.1" r="1.2" fill="#a4c85a" fill-opacity="0.8"/><circle cx="527.0" cy="367.7" r="1.2" fill="#d0d0d0" fill-opacity="0.6"/><circle cx="533.0" cy="116.1" r="1.2" fill="#86cfd6" fill-opacity="0.9"/><circle cx="533.0" cy="182.7" r="1.2" fill="#e8485c" fill-opacity="0.9"/><circle cx="533.0" cy="219.7" r="1.2" fill="#2f6db5" fill-opacity="0.9"/><circle cx="533.0" cy="323.3" r="1.2" fill="#e8408a" fill-opacity="0.9"/><circle cx="533.0" cy="345.5" r="1.2" fill="#a4c85a" fill-opacity="0.6"/><circle cx="533.0" cy="360.3" r="1.2" fill="#d0d0d0" fill-opacity="0.6"/><circle cx="545.0" cy="138.3" r="1.2" fill="#6cc7cf" fill-opacity="0.7"/><circle cx="545.0" cy="182.7" r="1.2" fill="#e02840" fill-opacity="1"/><circle cx="545.0" cy="204.9" r="1.2" fill="#44546a" fill-opacity="1"/><circle cx="545.0" cy="323.3" r="1.2" fill="#f07aac" fill-opacity="1"/><circle cx="545.0" cy="330.7" r="1.2" fill="#86a838" fill-opacity="0.8"/><circle cx="545.0" cy="367.7" r="1.2" fill="#d0d0d0" fill-opacity="0.8"/><circle cx="551.0" cy="123.5" r="1.2" fill="#9db8b4" fill-opacity="0.5"/><circle cx="551.0" cy="190.1" r="1.2" fill="#e02840" fill-opacity="0.9"/><circle cx="551.0" cy="197.5" r="1.2" fill="#2f6db5" fill-opacity="1"/><circle cx="551.0" cy="323.3" r="1.2" fill="#f07aac" fill-opacity="0.9"/><circle cx="551.0" cy="338.1" r="1.2" fill="#a4c85a" fill-opacity="0.6"/><circle cx="551.0" cy="367.7" r="1.2" fill="#c4c4c4" fill-opacity="1"/><circle cx="555.0" cy="138.3" r="1.2" fill="#6cc7cf" fill-opacity="0.9"/><circle cx="555.0" cy="182.7" r="1.2" fill="#e02840" fill-opacity="1"/><circle cx="555.0" cy="204.9" r="1.2" fill="#38485e" fill-opacity="1"/><circle cx="555.0" cy="330.7" r="1.2" fill="#ea5a98" fill-opacity="0.9"/><circle cx="555.0" cy="338.1" r="1.2" fill="#92bc3c" fill-opacity="1"/><circle cx="555.0" cy="375.1" r="1.2" fill="#c4c4c4" fill-opacity="0.8"/><circle cx="565.0" cy="138.3" r="1.2" fill="#86cfd6" fill-opacity="0.5"/><circle cx="565.0" cy="190.1" r="1.2" fill="#e02840" fill-opacity="1"/><circle cx="565.0" cy="212.3" r="1.2" fill="#2f6db5" fill-opacity="1"/><circle cx="565.0" cy="330.7" r="1.2" fill="#e8408a" fill-opacity="0.9"/><circle cx="565.0" cy="338.1" r="1.2" fill="#a4c85a" fill-opacity="1"/><circle cx="565.0" cy="367.7" r="1.2" fill="#b8b8b8" fill-opacity="0.6"/><circle cx="572.0" cy="130.9" r="1.2" fill="#9db8b4" fill-opacity="0.5"/><circle cx="572.0" cy="204.9" r="1.2" fill="#e8485c" fill-opacity="1"/><circle cx="572.0" cy="204.9" r="1.2" fill="#44546a" fill-opacity="1"/><circle cx="572.0" cy="323.3" r="1.2" fill="#f07aac" fill-opacity="0.7"/><circle cx="572.0" cy="345.5" r="1.2" fill="#92bc3c" fill-opacity="0.6"/><circle cx="572.0" cy="367.7" r="1.2" fill="#d0d0d0" fill-opacity="1"/><circle cx="582.0" cy="130.9" r="1.2" fill="#86cfd6" fill-opacity="0.5"/><circle cx="582.0" cy="190.1" r="1.2" fill="#d81830" fill-opacity="1"/><circle cx="582.0" cy="204.9" r="1.2" fill="#2f6db5" fill-opacity="0.9"/><circle cx="582.0" cy="315.9" r="1.2" fill="#ea5a98" fill-opacity="0.7"/><circle cx="582.0" cy="352.9" r="1.2" fill="#a4c85a" fill-opacity="0.8"/><circle cx="582.0" cy="367.7" r="1.2" fill="#c4c4c4" fill-opacity="0.8"/><circle cx="590.0" cy="130.9" r="1.2" fill="#9db8b4" fill-opacity="0.9"/><circle cx="590.0" cy="197.5" r="1.2" fill="#e02840" fill-opacity="0.9"/><circle cx="590.0" cy="212.3" r="1.2" fill="#2f6db5" fill-opacity="1"/><circle cx="590.0" cy="315.9" r="1.2" fill="#f07aac" fill-opacity="1"/><circle cx="590.0" cy="338.1" r="1.2" fill="#86a838" fill-opacity="1"/><circle cx="590.0" cy="367.7" r="1.2" fill="#b8b8b8" fill-opacity="0.8"/><circle cx="597.0" cy="130.9" r="1.2" fill="#6cc7cf" fill-opacity="0.5"/><circle cx="597.0" cy="190.1" r="1.2" fill="#e02840" fill-opacity="1"/><circle cx="597.0" cy="190.1" r="1.2" fill="#2a5c9c" fill-opacity="0.9"/><circle cx="597.0" cy="323.3" r="1.2" fill="#f07aac" fill-opacity="0.9"/><circle cx="597.0" cy="345.5" r="1.2" fill="#a4c85a" fill-opacity="0.6"/><circle cx="597.0" cy="367.7" r="1.2" fill="#c4c4c4" fill-opacity="0.6"/><circle cx="609.0" cy="130.9" r="1.2" fill="#6cc7cf" fill-opacity="0.7"/><circle cx="609.0" cy="197.5" r="1.2" fill="#e02840" fill-opacity="1"/><circle cx="609.0" cy="212.3" r="1.2" fill="#38485e" fill-opacity="1"/><circle cx="609.0" cy="330.7" r="1.2" fill="#ea5a98" fill-opacity="0.9"/><circle cx="609.0" cy="345.5" r="1.2" fill="#a4c85a" fill-opacity="1"/><circle cx="609.0" cy="367.7" r="1.2" fill="#d0d0d0" fill-opacity="0.8"/><circle cx="617.0" cy="123.5" r="1.2" fill="#9db8b4" fill-opacity="0.7"/><circle cx="617.0" cy="197.5" r="1.2" fill="#e8485c" fill-opacity="1"/><circle cx="617.0" cy="197.5" r="1.2" fill="#44546a" fill-opacity="1"/><circle cx="617.0" cy="323.3" r="1.2" fill="#ea5a98" fill-opacity="0.9"/><circle cx="617.0" cy="345.5" r="1.2" fill="#92bc3c" fill-opacity="0.8"/><circle cx="617.0" cy="367.7" r="1.2" fill="#c4c4c4" fill-opacity="0.8"/><circle cx="624.0" cy="130.9" r="1.2" fill="#9db8b4" fill-opacity="0.7"/><circle cx="624.0" cy="190.1" r="1.2" fill="#e8485c" fill-opacity="0.9"/><circle cx="624.0" cy="212.3" r="1.2" fill="#2a5c9c" fill-opacity="1"/><circle cx="624.0" cy="323.3" r="1.2" fill="#f07aac" fill-opacity="0.7"/><circle cx="624.0" cy="360.3" r="1.2" fill="#86a838" fill-opacity="1"/><circle cx="624.0" cy="367.7" r="1.2" fill="#c4c4c4" fill-opacity="0.6"/><circle cx="634.0" cy="130.9" r="1.2" fill="#6cc7cf" fill-opacity="0.5"/><circle cx="634.0" cy="190.1" r="1.2" fill="#e02840" fill-opacity="1"/><circle cx="634.0" cy="227.1" r="1.2" fill="#2a5c9c" fill-opacity="1"/><circle cx="634.0" cy="323.3" r="1.2" fill="#ea5a98" fill-opacity="0.7"/><circle cx="634.0" cy="338.1" r="1.2" fill="#92bc3c" fill-opacity="1"/><circle cx="634.0" cy="367.7" r="1.2" fill="#b8b8b8" fill-opacity="0.8"/><circle cx="638.0" cy="123.5" r="1.2" fill="#9db8b4" fill-opacity="0.5"/><circle cx="638.0" cy="182.7" r="1.2" fill="#d81830" fill-opacity="0.9"/><circle cx="638.0" cy="227.1" r="1.2" fill="#2a5c9c" fill-opacity="1"/><circle cx="638.0" cy="323.3" r="1.2" fill="#ea5a98" fill-opacity="1"/><circle cx="638.0" cy="345.5" r="1.2" fill="#86a838" fill-opacity="0.6"/><circle cx="638.0" cy="360.3" r="1.2" fill="#d0d0d0" fill-opacity="0.8"/><circle cx="642.0" cy="123.5" r="1.2" fill="#9db8b4" fill-opacity="0.5"/><circle cx="642.0" cy="190.1" r="1.2" fill="#e02840" fill-opacity="1"/><circle cx="642.0" cy="219.7" r="1.2" fill="#44546a" fill-opacity="0.9"/><circle cx="642.0" cy="323.3" r="1.2" fill="#f07aac" fill-opacity="1"/><circle cx="642.0" cy="352.9" r="1.2" fill="#a4c85a" fill-opacity="1"/><circle cx="642.0" cy="367.7" r="1.2" fill="#d0d0d0" fill-opacity="0.8"/><circle cx="647.0" cy="130.9" r="1.2" fill="#9db8b4" fill-opacity="0.7"/><circle cx="647.0" cy="197.5" r="1.2" fill="#e8485c" fill-opacity="1"/><circle cx="647.0" cy="227.1" r="1.2" fill="#2f6db5" fill-opacity="1"/><circle cx="647.0" cy="315.9" r="1.2" fill="#ea5a98" fill-opacity="0.9"/><circle cx="647.0" cy="338.1" r="1.2" fill="#a4c85a" fill-opacity="0.6"/><circle cx="647.0" cy="375.1" r="1.2" fill="#d0d0d0" fill-opacity="0.8"/><circle cx="651.0" cy="116.1" r="1.2" fill="#86cfd6" fill-opacity="0.7"/><circle cx="651.0" cy="197.5" r="1.2" fill="#e02840" fill-opacity="1"/><circle cx="651.0" cy="234.5" r="1.2" fill="#38485e" fill-opacity="1"/><circle cx="651.0" cy="315.9" r="1.2" fill="#ea5a98" fill-opacity="0.7"/><circle cx="651.0" cy="330.7" r="1.2" fill="#86a838" fill-opacity="1"/><circle cx="651.0" cy="367.7" r="1.2" fill="#c4c4c4" fill-opacity="0.6"/><circle cx="654.0" cy="116.1" r="1.2" fill="#9db8b4" fill-opacity="0.5"/><circle cx="654.0" cy="219.7" r="1.2" fill="#e02840" fill-opacity="0.9"/><circle cx="654.0" cy="219.7" r="1.2" fill="#38485e" fill-opacity="0.9"/><circle cx="654.0" cy="315.9" r="1.2" fill="#ea5a98" fill-opacity="0.9"/><circle cx="654.0" cy="330.7" r="1.2" fill="#92bc3c" fill-opacity="1"/><circle cx="654.0" cy="360.3" r="1.2" fill="#b8b8b8" fill-opacity="0.6"/><circle cx="661.0" cy="101.3" r="1.2" fill="#86cfd6" fill-opacity="0.5"/><circle cx="661.0" cy="212.3" r="1.2" fill="#e8485c" fill-opacity="1"/><circle cx="661.0" cy="241.9" r="1.2" fill="#2a5c9c" fill-opacity="1"/><circle cx="661.0" cy="301.1" r="1.2" fill="#e8408a" fill-opacity="0.9"/><circle cx="661.0" cy="315.9" r="1.2" fill="#86a838" fill-opacity="0.6"/><circle cx="661.0" cy="367.7" r="1.2" fill="#d0d0d0" fill-opacity="0.8"/><circle cx="664.0" cy="101.3" r="1.2" fill="#6cc7cf" fill-opacity="0.9"/><circle cx="664.0" cy="212.3" r="1.2" fill="#e8485c" fill-opacity="1"/><circle cx="664.0" cy="241.9" r="1.2" fill="#44546a" fill-opacity="0.9"/><circle cx="664.0" cy="308.5" r="1.2" fill="#e8408a" fill-opacity="0.7"/><circle cx="664.0" cy="323.3" r="1.2" fill="#a4c85a" fill-opacity="1"/><circle cx="664.0" cy="375.1" r="1.2" fill="#b8b8b8" fill-opacity="1"/><circle cx="667.0" cy="108.7" r="1.2" fill="#86cfd6" fill-opacity="0.9"/><circle cx="667.0" cy="227.1" r="1.2" fill="#d81830" fill-opacity="1"/><circle cx="667.0" cy="241.9" r="1.2" fill="#2f6db5" fill-opacity="1"/><circle cx="667.0" cy="323.3" r="1.2" fill="#e8408a" fill-opacity="0.7"/><circle cx="667.0" cy="323.3" r="1.2" fill="#a4c85a" fill-opacity="0.6"/><circle cx="667.0" cy="367.7" r="1.2" fill="#c4c4c4" fill-opacity="1"/><circle cx="671.0" cy="101.3" r="1.2" fill="#9db8b4" fill-opacity="0.7"/><circle cx="671.0" cy="219.7" r="1.2" fill="#e8485c" fill-opacity="1"/><circle cx="671.0" cy="227.1" r="1.2" fill="#44546a" fill-opacity="1"/><circle cx="671.0" cy="315.9" r="1.2" fill="#ea5a98" fill-opacity="1"/><circle cx="671.0" cy="308.5" r="1.2" fill="#86a838" fill-opacity="1"/><circle cx="671.0" cy="375.1" r="1.2" fill="#d0d0d0" fill-opacity="0.8"/><circle cx="675.0" cy="116.1" r="1.2" fill="#6cc7cf" fill-opacity="0.7"/><circle cx="675.0" cy="219.7" r="1.2" fill="#e02840" fill-opacity="1"/><circle cx="675.0" cy="241.9" r="1.2" fill="#38485e" fill-opacity="1"/><circle cx="675.0" cy="315.9" r="1.2" fill="#f07aac" fill-opacity="0.9"/><circle cx="675.0" cy="308.5" r="1.2" fill="#92bc3c" fill-opacity="0.8"/><circle cx="675.0" cy="367.7" r="1.2" fill="#b8b8b8" fill-opacity="0.8"/><circle cx="677.0" cy="108.7" r="1.2" fill="#9db8b4" fill-opacity="0.7"/><circle cx="677.0" cy="219.7" r="1.2" fill="#e02840" fill-opacity="0.9"/><circle cx="677.0" cy="227.1" r="1.2" fill="#2a5c9c" fill-opacity="1"/><circle cx="677.0" cy="315.9" r="1.2" fill="#ea5a98" fill-opacity="0.7"/><circle cx="677.0" cy="315.9" r="1.2" fill="#a4c85a" fill-opacity="0.8"/><circle cx="677.0" cy="375.1" r="1.2" fill="#d0d0d0" fill-opacity="0.6"/><circle cx="683.0" cy="93.9" r="1.2" fill="#86cfd6" fill-opacity="0.9"/><circle cx="683.0" cy="219.7" r="1.2" fill="#d81830" fill-opacity="1"/><circle cx="683.0" cy="256.7" r="1.2" fill="#2f6db5" fill-opacity="0.9"/><circle cx="683.0" cy="308.5" r="1.2" fill="#ea5a98" fill-opacity="0.7"/><circle cx="683.0" cy="301.1" r="1.2" fill="#a4c85a" fill-opacity="0.6"/><circle cx="683.0" cy="375.1" r="1.2" fill="#c4c4c4" fill-opacity="0.6"/><circle cx="685.0" cy="93.9" r="1.2" fill="#6cc7cf" fill-opacity="0.9"/><circle cx="685.0" cy="219.7" r="1.2" fill="#d81830" fill-opacity="1"/><circle cx="685.0" cy="241.9" r="1.2" fill="#2a5c9c" fill-opacity="1"/><circle cx="685.0" cy="315.9" r="1.2" fill="#e8408a" fill-opacity="1"/><circle cx="685.0" cy="315.9" r="1.2" fill="#86a838" fill-opacity="0.6"/><circle cx="685.0" cy="375.1" r="1.2" fill="#b8b8b8" fill-opacity="0.8"/><circle cx="692.0" cy="93.9" r="1.2" fill="#9db8b4" fill-opacity="0.7"/><circle cx="692.0" cy="219.7" r="1.2" fill="#d81830" fill-opacity="1"/><circle cx="692.0" cy="227.1" r="1.2" fill="#2f6db5" fill-opacity="0.9"/><circle cx="692.0" cy="315.9" r="1.2" fill="#e8408a" fill-opacity="1"/><circle cx="692.0" cy="308.5" r="1.2" fill="#92bc3c" fill-opacity="0.8"/><circle cx="692.0" cy="375.1" r="1.2" fill="#c4c4c4" fill-opacity="1"/><circle cx="697.0" cy="101.3" r="1.2" fill="#9db8b4" fill-opacity="0.9"/><circle cx="697.0" cy="219.7" r="1.2" fill="#e8485c" fill-opacity="1"/><circle cx="697.0" cy="234.5" r="1.2" fill="#2f6db5" fill-opacity="1"/><circle cx="697.0" cy="315.9" r="1.2" fill="#e8408a" fill-opacity="0.9"/><circle cx="697.0" cy="301.1" r="1.2" fill="#92bc3c" fill-opacity="0.6"/><circle cx="697.0" cy="360.3" r="1.2" fill="#b8b8b8" fill-opacity="0.6"/><circle cx="702.0" cy="101.3" r="1.2" fill="#9db8b4" fill-opacity="0.5"/><circle cx="702.0" cy="212.3" r="1.2" fill="#e02840" fill-opacity="1"/><circle cx="702.0" cy="234.5" r="1.2" fill="#2f6db5" fill-opacity="1"/><circle cx="702.0" cy="323.3" r="1.2" fill="#e8408a" fill-opacity="0.7"/><circle cx="702.0" cy="308.5" r="1.2" fill="#86a838" fill-opacity="1"/><circle cx="702.0" cy="367.7" r="1.2" fill="#b8b8b8" fill-opacity="0.8"/><circle cx="709.0" cy="116.1" r="1.2" fill="#6cc7cf" fill-opacity="0.5"/><circle cx="709.0" cy="219.7" r="1.2" fill="#e8485c" fill-opacity="1"/><circle cx="709.0" cy="234.5" r="1.2" fill="#2a5c9c" fill-opacity="1"/><circle cx="709.0" cy="308.5" r="1.2" fill="#e8408a" fill-opacity="1"/><circle cx="709.0" cy="286.3" r="1.2" fill="#92bc3c" fill-opacity="0.6"/><circle cx="709.0" cy="367.7" r="1.2" fill="#c4c4c4" fill-opacity="0.6"/><circle cx="716.0" cy="101.3" r="1.2" fill="#86cfd6" fill-opacity="0.5"/><circle cx="716.0" cy="212.3" r="1.2" fill="#d81830" fill-opacity="0.9"/><circle cx="716.0" cy="234.5" r="1.2" fill="#38485e" fill-opacity="1"/><circle cx="716.0" cy="323.3" r="1.2" fill="#ea5a98" fill-opacity="1"/><circle cx="716.0" cy="286.3" r="1.2" fill="#a4c85a" fill-opacity="0.6"/><circle cx="716.0" cy="367.7" r="1.2" fill="#b8b8b8" fill-opacity="1"/><circle cx="719.0" cy="101.3" r="1.2" fill="#9db8b4" fill-opacity="0.7"/><circle cx="719.0" cy="212.3" r="1.2" fill="#e02840" fill-opacity="0.9"/><circle cx="719.0" cy="234.5" r="1.2" fill="#38485e" fill-opacity="1"/><circle cx="719.0" cy="315.9" r="1.2" fill="#ea5a98" fill-opacity="1"/><circle cx="719.0" cy="301.1" r="1.2" fill="#92bc3c" fill-opacity="0.6"/><circle cx="719.0" cy="375.1" r="1.2" fill="#b8b8b8" fill-opacity="0.6"/><circle cx="722.0" cy="116.1" r="1.2" fill="#86cfd6" fill-opacity="0.5"/><circle cx="722.0" cy="212.3" r="1.2" fill="#e8485c" fill-opacity="1"/><circle cx="722.0" cy="234.5" r="1.2" fill="#44546a" fill-opacity="1"/><circle cx="722.0" cy="323.3" r="1.2" fill="#e8408a" fill-opacity="1"/><circle cx="722.0" cy="301.1" r="1.2" fill="#86a838" fill-opacity="0.6"/><circle cx="722.0" cy="375.1" r="1.2" fill="#d0d0d0" fill-opacity="0.6"/><circle cx="728.0" cy="123.5" r="1.2" fill="#86cfd6" fill-opacity="0.7"/><circle cx="728.0" cy="212.3" r="1.2" fill="#d81830" fill-opacity="0.9"/><circle cx="728.0" cy="241.9" r="1.2" fill="#38485e" fill-opacity="1"/><circle cx="728.0" cy="323.3" r="1.2" fill="#f07aac" fill-opacity="0.7"/><circle cx="728.0" cy="308.5" r="1.2" fill="#a4c85a" fill-opacity="0.6"/><circle cx="728.0" cy="367.7" r="1.2" fill="#c4c4c4" fill-opacity="0.8"/><circle cx="731.0" cy="123.5" r="1.2" fill="#6cc7cf" fill-opacity="0.7"/><circle cx="731.0" cy="219.7" r="1.2" fill="#d81830" fill-opacity="1"/><circle cx="731.0" cy="227.1" r="1.2" fill="#2a5c9c" fill-opacity="1"/><circle cx="731.0" cy="323.3" r="1.2" fill="#ea5a98" fill-opacity="1"/><circle cx="731.0" cy="301.1" r="1.2" fill="#86a838" fill-opacity="0.6"/><circle cx="731.0" cy="367.7" r="1.2" fill="#d0d0d0" fill-opacity="1"/><circle cx="736.0" cy="123.5" r="1.2" fill="#86cfd6" fill-opacity="0.7"/><circle cx="736.0" cy="219.7" r="1.2" fill="#e02840" fill-opacity="1"/><circle cx="736.0" cy="219.7" r="1.2" fill="#38485e" fill-opacity="1"/><circle cx="736.0" cy="323.3" r="1.2" fill="#e8408a" fill-opacity="0.7"/><circle cx="736.0" cy="301.1" r="1.2" fill="#a4c85a" fill-opacity="1"/><circle cx="736.0" cy="367.7" r="1.2" fill="#b8b8b8" fill-opacity="0.6"/><circle cx="740.0" cy="130.9" r="1.2" fill="#6cc7cf" fill-opacity="0.7"/><circle cx="740.0" cy="212.3" r="1.2" fill="#e02840" fill-opacity="1"/><circle cx="740.0" cy="241.9" r="1.2" fill="#38485e" fill-opacity="1"/><circle cx="740.0" cy="323.3" r="1.2" fill="#e8408a" fill-opacity="0.9"/><circle cx="740.0" cy="315.9" r="1.2" fill="#a4c85a" fill-opacity="1"/><circle cx="740.0" cy="375.1" r="1.2" fill="#b8b8b8" fill-opacity="1"/><circle cx="745.0" cy="123.5" r="1.2" fill="#9db8b4" fill-opacity="0.7"/><circle cx="745.0" cy="212.3" r="1.2" fill="#d81830" fill-opacity="0.9"/><circle cx="745.0" cy="227.1" r="1.2" fill="#2a5c9c" fill-opacity="1"/><circle cx="745.0" cy="315.9" r="1.2" fill="#ea5a98" fill-opacity="0.9"/><circle cx="745.0" cy="301.1" r="1.2" fill="#86a838" fill-opacity="0.6"/><circle cx="745.0" cy="367.7" r="1.2" fill="#b8b8b8" fill-opacity="0.6"/><circle cx="752.0" cy="108.7" r="1.2" fill="#9db8b4" fill-opacity="0.9"/><circle cx="752.0" cy="227.1" r="1.2" fill="#e8485c" fill-opacity="0.9"/><circle cx="752.0" cy="234.5" r="1.2" fill="#44546a" fill-opacity="1"/><circle cx="752.0" cy="301.1" r="1.2" fill="#ea5a98" fill-opacity="0.7"/><circle cx="752.0" cy="293.7" r="1.2" fill="#a4c85a" fill-opacity="0.6"/><circle cx="752.0" cy="375.1" r="1.2" fill="#c4c4c4" fill-opacity="0.8"/><circle cx="756.0" cy="123.5" r="1.2" fill="#6cc7cf" fill-opacity="0.5"/><circle cx="756.0" cy="227.1" r="1.2" fill="#d81830" fill-opacity="0.9"/><circle cx="756.0" cy="241.9" r="1.2" fill="#2f6db5" fill-opacity="0.9"/><circle cx="756.0" cy="308.5" r="1.2" fill="#ea5a98" fill-opacity="0.9"/><circle cx="756.0" cy="293.7" r="1.2" fill="#92bc3c" fill-opacity="1"/><circle cx="756.0" cy="375.1" r="1.2" fill="#b8b8b8" fill-opacity="0.8"/><circle cx="758.0" cy="123.5" r="1.2" fill="#9db8b4" fill-opacity="0.9"/><circle cx="758.0" cy="219.7" r="1.2" fill="#e8485c" fill-opacity="0.9"/><circle cx="758.0" cy="234.5" r="1.2" fill="#2f6db5" fill-opacity="1"/><circle cx="758.0" cy="330.7" r="1.2" fill="#e8408a" fill-opacity="1"/><circle cx="758.0" cy="301.1" r="1.2" fill="#92bc3c" fill-opacity="1"/><circle cx="758.0" cy="375.1" r="1.2" fill="#b8b8b8" fill-opacity="1"/><circle cx="765.0" cy="116.1" r="1.2" fill="#9db8b4" fill-opacity="0.9"/><circle cx="765.0" cy="227.1" r="1.2" fill="#e02840" fill-opacity="1"/><circle cx="765.0" cy="227.1" r="1.2" fill="#2f6db5" fill-opacity="1"/><circle cx="765.0" cy="315.9" r="1.2" fill="#f07aac" fill-opacity="1"/><circle cx="765.0" cy="301.1" r="1.2" fill="#92bc3c" fill-opacity="0.8"/><circle cx="765.0" cy="375.1" r="1.2" fill="#b8b8b8" fill-opacity="1"/><circle cx="767.0" cy="130.9" r="1.2" fill="#86cfd6" fill-opacity="0.7"/><circle cx="767.0" cy="227.1" r="1.2" fill="#e8485c" fill-opacity="0.9"/><circle cx="767.0" cy="234.5" r="1.2" fill="#2a5c9c" fill-opacity="1"/><circle cx="767.0" cy="323.3" r="1.2" fill="#f07aac" fill-opacity="0.7"/><circle cx="767.0" cy="301.1" r="1.2" fill="#92bc3c" fill-opacity="0.6"/><circle cx="767.0" cy="367.7" r="1.2" fill="#d0d0d0" fill-opacity="1"/><circle cx="770.0" cy="123.5" r="1.2" fill="#6cc7cf" fill-opacity="0.9"/><circle cx="770.0" cy="315.9" r="1.2" fill="#f07aac" fill-opacity="0.7"/><circle cx="770.0" cy="293.7" r="1.2" fill="#92bc3c" fill-opacity="1"/><circle cx="770.0" cy="367.7" r="1.2" fill="#d0d0d0" fill-opacity="1"/></g>
<path d="M58.3,348.2 L71.0,349.6 L83.8,352.5 L87.7,355.0 L98.0,363.5 L125.5,364.6 L155.2,364.6 L161.5,362.0 L189.1,363.1 L210.3,363.1 L225.1,361.0 L240.0,362.0 L251.9,363.1 L266.8,366.7 L288.0,361.6 L304.9,364.6 L316.6,366.7 L328.2,364.6 L345.2,364.6 L360.0,366.7 L374.8,364.6 L396.0,365.2 L415.1,368.0 L430.0,367.0 L441.9,367.3 L452.5,365.2 L471.6,366.3 L484.3,364.6 L509.7,365.2 L516.1,367.3 L537.3,365.8 L560.6,368.8 L577.5,367.3 L594.5,363.3 L609.8,365.2 L624.6,366.4 L649.3,367.7 L661.7,372.6 L679.0,373.8 L693.8,372.6 L718.5,373.8 L733.3,371.4 L762.9,370.9 L767.8,369.4 L770.3,366.9" fill="none" stroke="#b2b2b2" stroke-width="2.8" stroke-linejoin="round" stroke-linecap="round"/>
<path d="M58.1,353.4 L66.2,353.0 L75.0,352.3 L87.7,349.4 L99.6,346.7 L112.5,348.2 L125.5,354.0 L148.8,353.6 L176.4,350.4 L189.1,346.1 L203.9,346.8 L208.1,348.3 L212.4,346.8 L216.6,349.7 L220.8,351.9 L231.4,351.9 L239.9,348.3 L245.6,347.6 L251.9,348.9 L265.7,345.5 L274.2,346.8 L288.0,345.5 L317.6,347.6 L336.7,348.9 L355.8,350.4 L370.6,355.7 L372.7,352.5 L387.5,351.4 L396.0,349.7 L421.4,349.7 L422.5,351.4 L423.6,349.7 L439.8,349.7 L441.9,347.6 L456.8,346.1 L480.1,341.9 L494.9,343.4 L512.9,344.0 L526.7,341.3 L541.5,343.0 L554.2,340.4 L576.5,339.2 L583.9,340.8 L594.5,342.2 L603.5,345.4 L622.2,345.4 L625.9,344.2 L643.1,344.2 L650.6,338.0 L656.7,324.4 L662.9,317.5 L671.5,312.1 L681.4,308.4 L693.8,300.2 L706.1,297.8 L716.0,297.8 L728.3,300.2 L745.6,301.0 L753.0,299.3 L760.4,296.8 L765.4,296.0 L770.3,294.3" fill="none" stroke="#8ab82e" stroke-width="2.8" stroke-linejoin="round" stroke-linecap="round"/>
<path d="M58.1,342.5 L62.0,339.8 L64.0,344.0 L87.4,346.8 L96.9,346.8 L111.7,345.1 L121.3,339.2 L129.7,338.3 L146.7,334.5 L155.2,337.7 L176.4,337.7 L184.8,334.9 L190.1,332.8 L203.9,332.8 L214.5,330.7 L220.8,331.9 L227.2,330.3 L240.0,331.5 L260.4,330.7 L266.8,333.4 L281.6,332.4 L288.0,337.7 L294.3,335.6 L299.6,331.9 L302.8,333.4 L309.2,331.9 L316.6,334.1 L317.6,336.2 L328.2,335.6 L332.5,338.7 L343.1,340.4 L357.9,334.9 L360.0,337.7 L374.8,332.4 L385.4,331.3 L396.0,328.6 L408.7,327.1 L417.2,327.7 L423.6,329.2 L439.8,330.7 L454.7,331.9 L457.8,328.1 L470.6,327.7 L483.3,322.8 L512.9,324.3 L520.3,328.6 L539.4,328.6 L542.6,327.1 L562.7,325.6 L576.5,326.0 L582.8,328.1 L605.0,326.4 L607.7,329.0 L610.7,325.7 L624.6,322.6 L638.2,320.7 L644.4,317.5 L650.6,319.0 L654.3,313.3 L659.2,312.1 L666.6,314.6 L679.0,314.6 L693.8,319.0 L706.1,320.7 L716.0,322.5 L720.9,320.0 L728.3,322.5 L738.2,320.0 L748.1,318.3 L758.0,319.0 L765.4,320.7 L770.3,321.5" fill="none" stroke="#e8408a" stroke-width="2.8" stroke-linejoin="round" stroke-linecap="round"/>
<path d="M58.2,189.5 L63.8,187.6 L84.5,186.7 L93.6,189.9 L99.6,189.9 L111.9,187.6 L121.3,188.5 L126.0,183.8 L146.7,183.8 L156.1,186.7 L161.8,189.9 L176.8,191.7 L188.1,193.2 L190.0,195.5 L201.3,198.0 L205.1,199.8 L214.5,199.1 L218.4,206.4 L224.4,202.7 L230.1,204.2 L239.5,204.2 L246.1,204.9 L252.7,199.3 L259.3,204.5 L266.8,200.4 L273.4,200.8 L281.9,198.0 L287.5,201.7 L295.0,199.8 L299.7,201.7 L309.2,198.9 L315.8,198.5 L318.6,195.5 L328.0,194.8 L331.8,196.6 L344.9,197.4 L358.1,204.5 L371.3,207.9 L377.9,210.8 L386.0,210.8 L394.4,208.7 L407.6,207.4 L413.2,207.4 L421.7,202.7 L428.3,204.9 L441.5,200.8 L467.9,200.4 L482.0,208.3 L501.8,210.2 L514.9,211.7 L539.4,211.7 L542.2,213.6 L548.8,209.3 L565.4,208.8 L577.6,204.8 L595.5,204.8 L603.0,207.7 L607.7,211.4 L624.7,216.1 L637.9,216.1 L642.6,224.6 L652.0,224.6 L655.8,235.9 L660.5,241.2 L675.5,243.8 L683.1,243.1 L686.8,244.4 L693.4,244.4 L696.2,241.6 L701.9,241.2 L711.3,238.2 L716.0,238.2 L721.7,235.7 L737.9,235.5 L752.9,235.0 L758.6,236.1 L764.2,234.6 L765.2,231.8 L769.9,230.4" fill="none" stroke="#1a5ca6" stroke-width="2.8" stroke-linejoin="round" stroke-linecap="round"/>
<path d="M58.2,182.8 L63.8,179.7 L85.5,179.7 L93.6,176.3 L107.1,179.7 L124.1,183.5 L146.7,182.9 L161.8,182.9 L183.4,185.3 L189.1,189.5 L203.2,189.5 L205.1,185.3 L214.5,182.9 L218.5,176.0 L224.4,172.9 L239.5,174.0 L252.7,180.1 L264.0,181.6 L273.4,181.0 L282.8,183.8 L294.1,184.8 L300.7,188.5 L309.2,188.5 L316.7,186.7 L328.9,186.7 L331.8,184.2 L344.9,182.3 L356.2,181.0 L360.0,178.2 L371.3,180.4 L386.4,176.5 L393.5,176.5 L401.0,181.0 L407.6,179.1 L413.2,180.4 L428.3,187.6 L439.6,188.5 L457.5,195.1 L467.9,197.4 L477.3,195.5 L486.7,192.3 L511.2,189.9 L519.6,184.8 L540.4,188.5 L547.0,188.0 L554.5,191.6 L561.4,189.8 L567.2,192.2 L570.1,190.7 L577.6,192.6 L585.1,196.0 L595.5,198.2 L604.9,194.5 L607.7,189.8 L610.6,192.6 L622.8,192.2 L625.6,189.8 L636.0,191.1 L643.5,190.7 L652.0,198.2 L655.8,207.7 L660.5,214.3 L664.2,215.2 L675.5,219.3 L686.8,221.2 L693.4,223.7 L698.1,221.8 L707.5,222.7 L720.7,220.8 L727.4,218.3 L737.9,221.8 L748.2,222.4 L760.5,221.0 L766.1,221.0 L769.9,219.5" fill="none" stroke="#d60f1e" stroke-width="2.8" stroke-linejoin="round" stroke-linecap="round"/>
<path d="M57.5,148.3 L60.5,151.0 L61.7,154.2 L63.3,149.2 L85.0,147.5 L92.5,143.7 L98.3,144.7 L111.7,145.0 L120.8,146.7 L125.8,145.3 L128.3,146.3 L146.7,148.3 L155.8,144.2 L176.7,147.5 L185.8,143.3 L190.0,144.7 L200.0,144.7 L205.0,142.5 L211.7,142.5 L215.8,145.8 L225.0,145.8 L246.7,144.7 L265.8,140.0 L271.7,142.0 L283.3,143.0 L287.5,145.3 L300.0,140.0 L316.7,136.7 L330.0,134.7 L345.0,135.8 L360.0,135.0 L368.3,134.7 L372.5,136.7 L376.7,134.7 L388.3,135.0 L405.0,132.5 L413.3,133.0 L421.7,130.8 L428.3,132.0 L441.7,131.7 L455.0,132.0 L461.7,131.3 L480.0,131.3 L491.7,129.2 L505.0,128.0 L515.0,127.0 L520.0,124.7 L526.7,126.3 L540.0,127.5 L552.5,133.3 L566.7,133.3 L575.8,134.7 L583.3,131.3 L596.7,131.3 L610.0,130.5 L637.5,130.5 L642.8,123.2 L652.0,121.3 L655.0,113.3 L659.5,107.5 L670.0,104.5 L673.3,103.3 L683.3,102.8 L691.7,105.0 L695.0,107.5 L700.0,107.0 L711.7,110.0 L721.7,113.3 L735.0,119.7 L741.7,118.7 L751.7,120.8 L761.7,124.2 L770.0,128.3" fill="none" stroke="#5cc0c9" stroke-width="2.8" stroke-linejoin="round" stroke-linecap="round"/>
<circle cx="58.3" cy="148.6" r="3" fill="#7fcfd6"/>
<circle cx="58.3" cy="183" r="3" fill="#d60f1e"/>
<circle cx="58.3" cy="189.8" r="3" fill="#1d6a8a"/>
<circle cx="58.3" cy="342.8" r="3" fill="#e8408a"/>
<rect x="55.8" y="351.4" width="5" height="5" fill="#8ab82e"/>
<rect x="56" y="346.8" width="4.6" height="4.6" fill="#b8b8b8"/>
<text x="795.2" y="22" font-size="12.6" fill="#404040" textLength="152" lengthAdjust="spacingAndGlyphs">30 day average - 2019-09-23</text>
<rect x="809.5" y="33" width="1" height="377" fill="#c8c8c8"/>
<rect x="810" y="39.5" width="120.1" height="43" fill="url(#g0)"/>
<text x="817.4" y="65.8" font-size="10" fill="#161616" stroke-width="0.3" textLength="27.4" lengthAdjust="spacingAndGlyphs">34,4%</text>
<text transform="translate(788.6,52.5) rotate(90)" font-size="10" fill="#222" textLength="18.1" lengthAdjust="spacingAndGlyphs">ÖVP</text>
<rect x="810" y="93.3" width="76.8" height="43" fill="url(#g1)"/>
<text x="817.4" y="119.6" font-size="10" fill="#161616" stroke-width="0.3" textLength="27.4" lengthAdjust="spacingAndGlyphs">22,0%</text>
<text transform="translate(788.6,105.6) rotate(90)" font-size="10" fill="#222" textLength="19.4" lengthAdjust="spacingAndGlyphs">SPÖ</text>
<rect x="810" y="147.2" width="71.2" height="43" fill="url(#g2)"/>
<text x="817.4" y="173.5" font-size="10" fill="#161616" stroke-width="0.3" textLength="27.4" lengthAdjust="spacingAndGlyphs">20,4%</text>
<text transform="translate(788.6,160.3) rotate(90)" font-size="10" fill="#222" textLength="17.8" lengthAdjust="spacingAndGlyphs">FPÖ</text>
<rect x="810" y="201.1" width="29.0" height="43" fill="url(#g3)"/>
<text x="817.4" y="227.4" font-size="10" fill="#161616" stroke-width="0.3" textLength="21.4" lengthAdjust="spacingAndGlyphs">8,3%</text>
<text transform="translate(788.6,210.8) rotate(90)" font-size="10" fill="#222" textLength="24.6" lengthAdjust="spacingAndGlyphs">NEOS</text>
<rect x="810" y="254.9" width="5.9" height="43" fill="#b9b9b9"/>
<text x="817.4" y="281.2" font-size="10" fill="#161616" stroke-width="0.3" textLength="21.4" lengthAdjust="spacingAndGlyphs">1,7%</text>
<text transform="translate(788.6,263.8) rotate(90)" font-size="10" fill="#222" textLength="26.1" lengthAdjust="spacingAndGlyphs">JETZT</text>
<rect x="810" y="308.8" width="40.8" height="43" fill="url(#g5)"/>
<text x="817.4" y="335.1" font-size="10" fill="#161616" stroke-width="0.3" textLength="27.4" lengthAdjust="spacingAndGlyphs">11,7%</text>
<text transform="translate(788.6,317.3) rotate(90)" font-size="10" fill="#222" textLength="26.9" lengthAdjust="spacingAndGlyphs">Grüne</text>
<path d="M810,363 H815.5 V407 H810" fill="#fff" stroke="#2e2e2e" stroke-width="1"/>
<text x="817.4" y="388.9" font-size="10" fill="#161616" stroke-width="0.3" textLength="21.4" lengthAdjust="spacingAndGlyphs">1,6%</text>
<text transform="translate(788.6,369.3) rotate(90)" font-size="10" fill="#222" textLength="30.6" lengthAdjust="spacingAndGlyphs">Others</text>
</svg></body></html>
